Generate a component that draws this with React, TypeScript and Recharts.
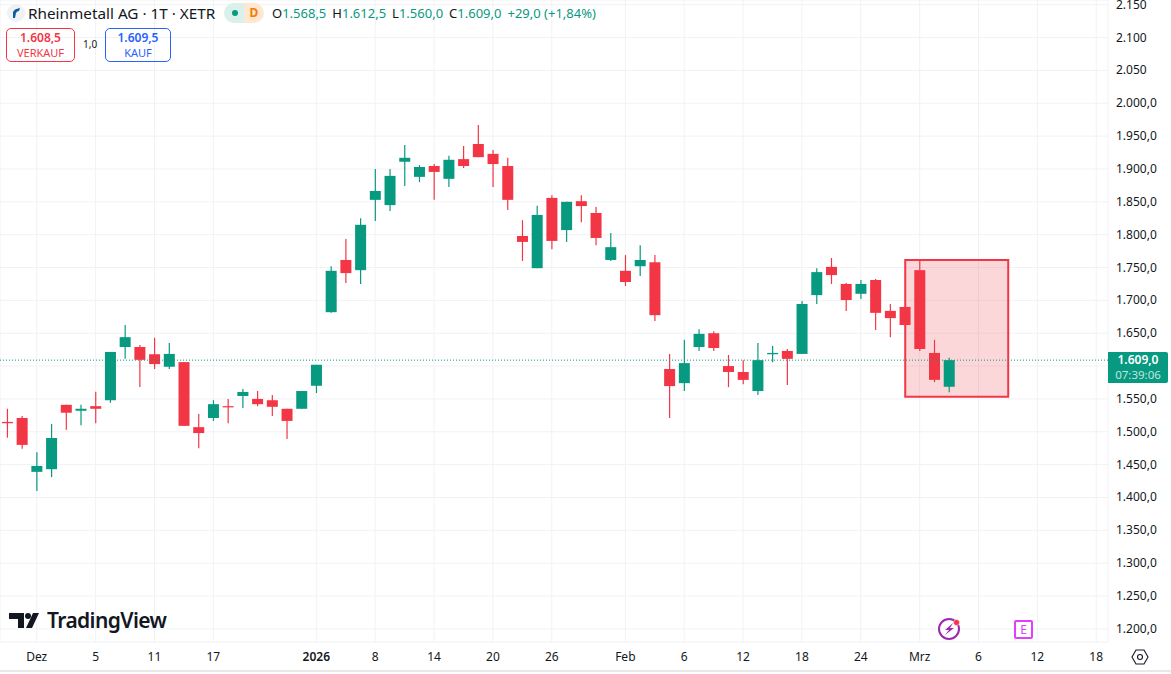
import {
  Bar,
  CartesianGrid,
  ComposedChart,
  ReferenceArea,
  ReferenceLine,
  XAxis,
  YAxis,
} from "recharts";

const opens = [1515, 1521, 1439, 1443, 1541, 1532, 1539, 1548, 1629, 1629, 1618, 1599, 1606, 1507, 1521, 1539, 1554.5, 1550, 1548, 1535, 1535, 1570, 1682, 1761.5, 1746, 1853, 1845, 1911, 1888, 1904.5, 1885, 1915, 1938, 1923, 1904.5, 1798, 1749, 1856, 1807, 1851, 1833, 1761.5, 1745, 1752, 1758, 1595.5, 1574, 1629, 1650, 1600, 1591, 1562, 1618, 1623, 1618.5, 1708, 1751, 1725, 1710, 1731, 1684, 1690, 1746, 1620, 1568.5];
const highs = [1535, 1524, 1469, 1512, 1541, 1541, 1561, 1621.5, 1662.5, 1632, 1643, 1635, 1606, 1527, 1548, 1550, 1565, 1562, 1556, 1535, 1562, 1602, 1752, 1793.5, 1825, 1900, 1900, 1936.5, 1906, 1907.5, 1920, 1935, 1967, 1929, 1917, 1822, 1844, 1860, 1850, 1860, 1842, 1802.5, 1769, 1784, 1769, 1618.5, 1640, 1656, 1653, 1617, 1609, 1635, 1630.5, 1626, 1699, 1749, 1764.5, 1726.5, 1731, 1732.5, 1694.5, 1690, 1761.5, 1640, 1612.5];
const lows = [1491, 1474, 1410, 1431, 1503, 1510, 1513, 1544, 1611, 1568, 1595.5, 1595.5, 1509, 1475, 1516.5, 1513, 1536, 1539, 1524, 1489, 1535, 1559, 1681, 1726.5, 1725, 1821, 1836, 1874, 1880, 1853, 1872.5, 1901.5, 1918, 1872.5, 1837.5, 1760, 1749, 1778, 1789, 1819, 1784, 1760, 1722, 1737, 1668.5, 1521, 1562, 1623, 1623, 1568, 1572.5, 1556, 1606, 1571, 1618.5, 1694.5, 1725, 1684, 1702, 1655, 1644, 1662.5, 1623, 1575.5, 1560];
const closes = [1513, 1480, 1448, 1490.5, 1529, 1535, 1535, 1621.5, 1644, 1609.5, 1603, 1618.5, 1509, 1498, 1542, 1538, 1560.5, 1542, 1538, 1516.5, 1562, 1602, 1745, 1741.5, 1815, 1866.5, 1889.5, 1917, 1903, 1895.5, 1914, 1904.5, 1918, 1907.5, 1853, 1789, 1830, 1790.5, 1850, 1843.5, 1795, 1781, 1728, 1761.5, 1677.5, 1569.5, 1604.5, 1649, 1627.5, 1591, 1579, 1609, 1620, 1611, 1694.5, 1743, 1738.5, 1700.5, 1725, 1681, 1673, 1662.5, 1626, 1579, 1609];

const xTicks = [2, 6, 10, 14, 21, 25, 29, 33, 37, 42, 46, 50, 54, 58, 62, 66, 70, 74];
const xTickLabels = ["Dez", "5", "11", "17", "2026", "8", "14", "20", "26", "Feb", "6", "12", "18", "24", "Mrz", "6", "12", "18"];
const yTicks = [1200, 1250, 1300, 1350, 1400, 1450, 1500, 1550, 1600, 1650, 1700, 1750, 1800, 1850, 1900, 1950, 2000, 2050, 2100, 2150];
// the 1.600 label sits under the last-price box in the reference, so it stays empty
const yTickLabels = ["1.200,0", "1.250,0", "1.300,0", "1.350,0", "1.400,0", "1.450,0", "1.500,0", "1.550,0", "", "1.650,0", "1.700,0", "1.750,0", "1.800,0", "1.850,0", "1.900,0", "1.950,0", "2.000,0", "2.050", "2.100", "2.150"];

const UP = "#089981";
const DOWN = "#f23645";
const FONT = '"Noto Sans", sans-serif';

const candles = opens.map((open, i) => ({
  i,
  open,
  high: highs[i],
  low: lows[i],
  close: closes[i],
  range: [lows[i], highs[i]],
}));

function Candle(props: any) {
  const { x, y, width, height, payload } = props;
  const color = payload.close >= payload.open ? UP : DOWN;
  const perUnit = Math.abs(height) / (payload.high - payload.low);
  const cx = x + width / 2;
  const top = y + (payload.high - Math.max(payload.open, payload.close)) * perUnit;
  const bodyH = Math.abs(payload.open - payload.close) * perUnit;
  return (
    <g>
      <line x1={cx} x2={cx} y1={y} y2={y + Math.abs(height)} stroke={color} strokeWidth={1.2} />
      <rect x={x} y={top} width={width} height={Math.max(bodyH, 1.2)} fill={color} />
    </g>
  );
}

function TimeTick({ x, y, payload }: any) {
  const label = xTickLabels[xTicks.indexOf(payload.value)];
  return (
    <text x={x} y={y} dy={11} textAnchor="middle" fontSize={12} fontFamily={FONT} fill="#131722" fontWeight={label === "2026" ? 600 : 400}>
      {label}
    </text>
  );
}

function PriceTick({ x, y, payload }: any) {
  return (
    <text x={x} y={y} dy={4} fontSize={12} fontFamily={FONT} fill="#131722">
      {yTickLabels[yTicks.indexOf(payload.value)]}
    </text>
  );
}

function Header() {
  const val = { color: UP, marginRight: 6 };
  return (
    <>
      <svg width={20} height={20} style={{ position: "absolute", left: 6, top: 3 }}>
        <circle cx={10} cy={10} r={9} fill="#eef1f6" />
        <path d="M7 15 L7 9 Q8 6 14 5 L13 8 Q11 8 10 10 L9 15 Z" fill="#0b5c97" />
      </svg>
      <div style={{ position: "absolute", left: 28, top: 3, fontSize: 15.3, lineHeight: "20px", color: "#131722", whiteSpace: "nowrap" }}>
        Rheinmetall AG · 1T · XETR
      </div>
      <div style={{ position: "absolute", left: 224, top: 3, width: 20, height: 20, background: "#d9f0eb", borderRadius: "10px 0 0 10px" }} />
      <div style={{ position: "absolute", left: 244, top: 3, width: 20, height: 20, background: "#ffe8d1", borderRadius: "0 10px 10px 0", color: "#f57c00", fontSize: 12, fontWeight: 700, lineHeight: "20px", textAlign: "center" }}>
        D
      </div>
      <div style={{ position: "absolute", left: 232, top: 10, width: 6, height: 6, borderRadius: 3, background: UP }} />
      <div style={{ position: "absolute", left: 272, top: 3, fontSize: 13, lineHeight: "20px", color: "#131722", whiteSpace: "nowrap" }}>
        O<span style={val}>1.568,5</span>H<span style={val}>1.612,5</span>L<span style={val}>1.560,0</span>C<span style={val}>1.609,0</span>
        <span style={{ color: UP }}>+29,0 (+1,84%)</span>
      </div>
      <div style={{ position: "absolute", left: 6, top: 28, width: 67, height: 32, border: `1px solid ${DOWN}`, borderRadius: 5, color: DOWN, textAlign: "center" }}>
        <div style={{ fontSize: 12, fontWeight: 600, lineHeight: "18px" }}>1.608,5</div>
        <div style={{ fontSize: 11, lineHeight: "12px" }}>VERKAUF</div>
      </div>
      <div style={{ position: "absolute", left: 83, top: 37, fontSize: 10, lineHeight: "14px", color: "#131722" }}>1,0</div>
      <div style={{ position: "absolute", left: 105, top: 28, width: 64, height: 32, border: "1px solid #2962ff", borderRadius: 5, color: "#2962ff", textAlign: "center" }}>
        <div style={{ fontSize: 12, fontWeight: 600, lineHeight: "18px" }}>1.609,5</div>
        <div style={{ fontSize: 11, lineHeight: "12px" }}>KAUF</div>
      </div>
    </>
  );
}

function Overlays() {
  return (
    <>
      <svg width={32} height={16} style={{ position: "absolute", left: 8, top: 613 }}>
        <path d="M1 0 H16 V15 H10 V6 H1 Z M31 0 H25 L18 15 H24 Z" fill="#131722" />
        <circle cx={20} cy={3} r={3} fill="#131722" />
      </svg>
      <div style={{ position: "absolute", left: 47, top: 606, fontSize: 21, lineHeight: "28px", fontWeight: 600, letterSpacing: -0.6, color: "#131722", whiteSpace: "nowrap" }}>
        TradingView
      </div>
      <div style={{ position: "absolute", left: 1108, top: 352, width: 60, height: 31, background: UP, borderRadius: "0 2px 2px 0", color: "#fff", textAlign: "center" }}>
        <div style={{ fontSize: 12, fontWeight: 600, lineHeight: "16px" }}>1.609,0</div>
        <div style={{ fontSize: 11.5, lineHeight: "14px", color: "rgba(255,255,255,0.75)" }}>07:39:06</div>
      </div>
      <svg width={26} height={26} style={{ position: "absolute", left: 936, top: 616 }}>
        <circle cx={13} cy={13} r={10} fill="none" stroke="#9c27b0" strokeWidth={2} />
        <path d="M17 7 L9 14 H13 L9 19 L18 12 H14 Z" fill="#9c27b0" />
        <circle cx={20.5} cy={6.5} r={3} fill={DOWN} stroke="#fff" strokeWidth={0.5} />
      </svg>
      <div style={{ position: "absolute", left: 1014, top: 620, width: 15, height: 15, border: "2px solid #e040fb", borderRadius: 2, color: "#e040fb", fontSize: 12, lineHeight: "15px", textAlign: "center" }}>
        E
      </div>
      <svg width={18} height={18} style={{ position: "absolute", left: 1131, top: 648 }}>
        <path d="M5 2 H13 L17 9 L13 16 H5 L1 9 Z" fill="none" stroke="#131722" strokeWidth={1.1} />
        <circle cx={9} cy={9} r={2.5} fill="none" stroke="#131722" strokeWidth={1.1} />
      </svg>
      <div style={{ position: "absolute", left: 0, top: 670, width: 1171, height: 2, background: "#e8e8e8" }} />
    </>
  );
}

export default function App() {
  return (
    <div style={{ position: "absolute", left: 0, top: 0, width: 1171, height: 674, background: "#fff", fontFamily: FONT, overflow: "hidden" }}>
      <ComposedChart width={1171} height={674} data={candles} margin={{ top: 0, right: 0, bottom: 0, left: 0 }}>
        <CartesianGrid stroke="#f1f2f5" />
        <XAxis
          dataKey="i"
          type="number"
          domain={[-0.496, 74.8]}
          ticks={xTicks}
          interval={0}
          height={32}
          axisLine={false}
          tickLine={false}
          tick={<TimeTick />}
          allowDataOverflow
        />
        <YAxis
          type="number"
          orientation="right"
          domain={[1180, 2157.2]}
          ticks={yTicks}
          interval={0}
          width={63}
          axisLine={false}
          tickLine={false}
          tick={<PriceTick />}
          allowDataOverflow
        />
        <ReferenceArea x1={61.02} x2={68.02} y1={1553.4} y2={1761.5} fill={DOWN} fillOpacity={0.2} stroke={DOWN} strokeWidth={2} ifOverflow="visible" />
        <ReferenceLine y={1609} stroke={UP} strokeDasharray="1 2" />
        <Bar dataKey="range" barSize={11} shape={<Candle />} isAnimationActive={false} />
      </ComposedChart>
      <Header />
      <Overlays />
    </div>
  );
}
